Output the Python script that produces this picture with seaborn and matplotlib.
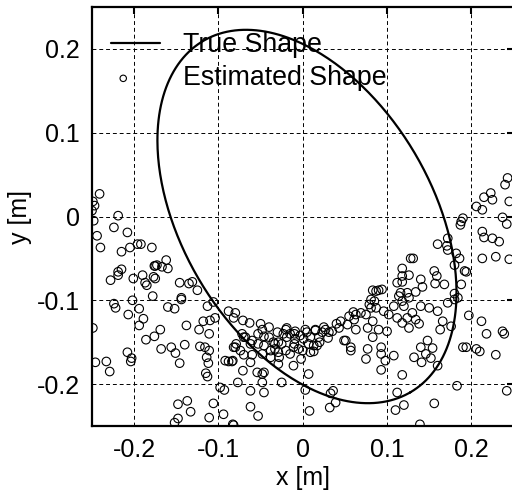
import numpy as np
import pandas as pd
import matplotlib
matplotlib.use("Agg")
import matplotlib.pyplot as plt
from matplotlib.collections import PathCollection
from matplotlib.legend_handler import HandlerPathCollection
import seaborn as sns

# ---------------- data ----------------
# Estimated shape: scattered points (x [m], y [m])
est_x = [
    -0.241, -0.249, -0.247, -0.250, -0.248, -0.219, -0.224, -0.244, -0.208, -0.240,
    -0.215, -0.205, -0.196, -0.192, -0.179, -0.162, -0.173, -0.176, -0.167, -0.160,
    -0.215, -0.219, -0.219, -0.228, -0.201, -0.190, -0.177, -0.175, -0.187, -0.185,
    -0.146, -0.135, -0.131, -0.125, -0.178, -0.144,
    -0.224, -0.222, -0.202, -0.194, -0.207, -0.189, -0.194, -0.160, -0.152, -0.144,
    -0.113, -0.106, -0.088, -0.249, -0.169, -0.176, -0.186, -0.138, -0.123, -0.118,
    -0.110, -0.104, -0.111, -0.140, -0.168, -0.156, -0.151, -0.146, -0.208, -0.203,
    -0.204, -0.246, -0.233, -0.229, -0.122, -0.116, -0.111, -0.114, -0.112, -0.115,
    -0.113, -0.088, -0.084, -0.098, -0.093, -0.148, -0.137, -0.133, -0.148, -0.152,
    -0.106, -0.111, -0.094, -0.083,
    -0.080, -0.082, -0.071, -0.063, -0.072, -0.070, -0.079, -0.082, -0.074, -0.083,
    -0.062, -0.071, -0.054, -0.048, -0.046, -0.048, -0.077, -0.062, -0.046, -0.025,
    0.007, 0.003, 0.033, 0.036, 0.039, 0.032, 0.008, -0.062, -0.053, -0.082,
    -0.048, -0.053, -0.040, -0.060, -0.053, -0.046, -0.033, -0.038, -0.029, -0.048,
    -0.038, -0.028, -0.029, -0.015, -0.011, -0.005, -0.002, -0.019, -0.015, -0.009,
    -0.003, 0.001, 0.009, 0.007, 0.013, 0.017, 0.019, 0.013, 0.009, -0.011,
    -0.025, -0.029, -0.033, -0.023, 0.031, 0.035, 0.043, 0.053, 0.061, 0.063,
    0.069, 0.075, 0.081, 0.079, 0.081, 0.077, 0.063, 0.051, 0.057, 0.057,
    0.077, 0.075, 0.027, 0.023,
    0.085, 0.087, 0.096, 0.102, 0.108, 0.118, 0.120, 0.114, 0.126, 0.140,
    0.150, 0.160, 0.172, 0.180, 0.130, 0.124, 0.134, 0.112, 0.118, 0.126,
    0.138, 0.166, 0.176, 0.163, 0.083, 0.090, 0.100, 0.083, 0.093, 0.093,
    0.108, 0.098, 0.093, 0.140, 0.148, 0.154, 0.146, 0.132, 0.141, 0.152,
    0.160, 0.118, 0.190, 0.194, 0.206, 0.210, 0.229, 0.197, 0.212, 0.218,
    0.237, 0.239, 0.183, 0.242, 0.112, 0.120, 0.110, 0.156, 0.139,
    0.243, 0.240, 0.223, 0.215, 0.225, 0.206, 0.213, 0.245, 0.237, 0.242,
    0.190, 0.188, 0.187, 0.213, 0.215, 0.225, 0.233, 0.172, 0.160, 0.171,
    0.172, 0.182, 0.186, 0.213, 0.229, 0.245, 0.128, 0.131, 0.180, 0.192,
    0.194, 0.156, 0.159, 0.118, 0.126, 0.118, 0.140, 0.112, 0.118, 0.157,
    0.168, 0.188, 0.142, 0.094, 0.087, 0.090, 0.116, 0.124, 0.134, 0.180,
    0.184, 0.083,
    -0.175, -0.092, -0.080, -0.068, -0.062, -0.046, 0.049, 0.055, 0.060,
    -0.019, -0.009, 0.003, 0.015, -0.050, -0.040, -0.030, -0.020, -0.010,
    0.005, 0.015, 0.025, 0.040, 0.045, -0.035, -0.020, 0.000, 0.020, -0.010,
    -0.060, -0.070, 0.030,
]
est_y = [
    0.027, 0.018, 0.013, 0.007, -0.005, 0.001, -0.013, -0.023, -0.019, -0.037,
    -0.042, -0.037, -0.033, -0.033, -0.037, -0.052, -0.058, -0.059, -0.060, -0.062,
    -0.063, -0.066, -0.070, -0.076, -0.074, -0.070, -0.072, -0.074, -0.079, -0.082,
    -0.079, -0.080, -0.078, -0.088, -0.095, -0.097,
    -0.104, -0.109, -0.100, -0.110, -0.117, -0.122, -0.130, -0.108, -0.110, -0.099,
    -0.107, -0.102, -0.113, -0.133, -0.135, -0.143, -0.147, -0.130, -0.135, -0.125,
    -0.124, -0.121, -0.140, -0.153, -0.158, -0.156, -0.163, -0.175, -0.162, -0.169,
    -0.173, -0.174, -0.173, -0.185, -0.155, -0.156, -0.160, -0.168, -0.175, -0.187,
    -0.191, -0.173, -0.173, -0.204, -0.207, -0.224, -0.220, -0.233, -0.241, -0.246,
    -0.223, -0.240, -0.236, -0.248,
    -0.115, -0.121, -0.124, -0.127, -0.140, -0.144, -0.152, -0.156, -0.160, -0.172,
    -0.174, -0.184, -0.186, -0.188, -0.186, -0.198, -0.198, -0.208, -0.210, -0.198,
    -0.188, -0.207, -0.211, -0.208, -0.222, -0.228, -0.232, -0.227, -0.238, -0.249,
    -0.135, -0.140, -0.144, -0.148, -0.152, -0.154, -0.152, -0.160, -0.162, -0.164,
    -0.168, -0.168, -0.176, -0.164, -0.178, -0.158, -0.170, -0.144, -0.140, -0.146,
    -0.142, -0.146, -0.144, -0.152, -0.154, -0.154, -0.144, -0.161, -0.162, -0.156,
    -0.152, -0.150, -0.158, -0.140, -0.138, -0.137, -0.133, -0.129, -0.123, -0.117,
    -0.115, -0.117, -0.109, -0.105, -0.099, -0.133, -0.135, -0.148, -0.156, -0.160,
    -0.158, -0.170, -0.135, -0.138,
    -0.101, -0.109, -0.113, -0.117, -0.107, -0.101, -0.107, -0.095, -0.097, -0.107,
    -0.109, -0.113, -0.103, -0.099, -0.115, -0.121, -0.123, -0.121, -0.127, -0.133,
    -0.128, -0.125, -0.131, -0.135, -0.125, -0.135, -0.137, -0.144, -0.156, -0.164,
    -0.166, -0.172, -0.183, -0.156, -0.148, -0.157, -0.164, -0.168, -0.174, -0.169,
    -0.178, -0.189, -0.156, -0.156, -0.158, -0.161, -0.165, -0.118, -0.125, -0.140,
    -0.137, -0.140, -0.202, -0.208, -0.210, -0.225, -0.231, -0.223, -0.248,
    0.046, 0.038, 0.028, 0.023, 0.020, 0.012, 0.008, 0.018, -0.001, -0.009,
    -0.002, -0.006, -0.010, -0.018, -0.025, -0.026, -0.030, -0.026, -0.033, -0.035,
    -0.040, -0.044, -0.050, -0.050, -0.048, -0.051, -0.050, -0.050, -0.058, -0.065,
    -0.066, -0.065, -0.071, -0.062, -0.070, -0.071, -0.075, -0.079, -0.078, -0.080,
    -0.081, -0.081, -0.084, -0.087, -0.089, -0.088, -0.091, -0.091, -0.090, -0.092,
    -0.097, -0.088,
    -0.059, -0.172, -0.156, -0.144, -0.152, -0.143, -0.148, -0.119, -0.114,
    -0.133, -0.137, -0.135, -0.135, -0.128, -0.132, -0.138, -0.135, -0.140,
    -0.138, -0.136, -0.132, -0.128, -0.125, -0.150, -0.160, -0.160, -0.150, -0.152,
    -0.165, -0.165, -0.145,
]

# True shape: ellipse parameters (center, semi-axes, orientation)
true_center = (0.005, 0.0)
true_semi_axes = (0.243, 0.1485)
true_angle_deg = -59.7

x_ticks = [-0.2, -0.1, 0.0, 0.1, 0.2]
x_tick_labels = ["-0.2", "-0.1", "0", "0.1", "0.2"]
y_ticks = [-0.2, -0.1, 0.0, 0.1, 0.2]
y_tick_labels = ["-0.2", "-0.1", "0", "0.1", "0.2"]
x_limits = (-0.25, 0.25)
y_limits = (-0.25, 0.25)
series_labels = ["True Shape", "Estimated Shape"]

# ---------------- style ----------------
sns.set_style("white")
plt.rcParams["font.family"] = ["Liberation Sans", "DejaVu Sans"]
plt.rcParams["axes.unicode_minus"] = False
plt.rcParams["text.color"] = "black"
plt.rcParams["axes.labelcolor"] = "black"
plt.rcParams["xtick.color"] = "black"
plt.rcParams["ytick.color"] = "black"

W, H = 512, 497
fig = plt.figure(figsize=(W / 100, H / 100), dpi=100)
ax = fig.add_axes([92 / W, (H - 426) / H, (513.5 - 92) / W, (426 - 7) / H])

# ellipse outline
t = np.linspace(0, 2 * np.pi, 400)
th = np.deg2rad(true_angle_deg)
a, b = true_semi_axes
ex = true_center[0] + a * np.cos(th) * np.cos(t) - b * np.sin(th) * np.sin(t)
ey = true_center[1] + a * np.sin(th) * np.cos(t) + b * np.cos(th) * np.sin(t)
ell_df = pd.DataFrame({"x": ex, "y": ey})
sns.lineplot(data=ell_df, x="x", y="y", sort=False, estimator=None, color="black",
             linewidth=1.6, ax=ax, label=series_labels[0], zorder=3)

est_df = pd.DataFrame({"x": est_x, "y": est_y})
sns.scatterplot(data=est_df, x="x", y="y", marker="o", s=38, facecolor="none",
                edgecolor="black", linewidth=0.8, ax=ax, label=series_labels[1], zorder=2)

ax.set_xlim(*x_limits)
ax.set_ylim(*y_limits)
ax.set_xticks(x_ticks)
ax.set_xticklabels(x_tick_labels)
ax.set_yticks(y_ticks)
ax.set_yticklabels(y_tick_labels)
ax.grid(True, color="black", linestyle=(0, (4, 3)), linewidth=0.7)
ax.set_axisbelow(True)
for sp in ax.spines.values():
    sp.set_visible(True)
    sp.set_color("black")
    sp.set_linewidth(1.6)
ax.tick_params(direction="in", top=True, right=True, length=5, width=1.5,
               labelsize=18, pad=8.5, colors="black")
ax.set_xlabel("x [m]", fontsize=18, labelpad=3)
ax.set_ylabel("y [m]", fontsize=18, labelpad=4)


class LeftMarkerHandler(HandlerPathCollection):
    def get_xdata(self, legend, xdescent, ydescent, width, height, fontsize):
        xdata, _ = super().get_xdata(legend, xdescent, ydescent, width, height, fontsize)
        return xdata, [-xdescent + 0.25 * width]


leg = ax.legend(loc="upper left", bbox_to_anchor=(0.045, 0.94), frameon=False,
                fontsize=19.3, handlelength=1.83, handletextpad=0.86,
                labelspacing=0.27, markerscale=0.75, borderaxespad=0, borderpad=0,
                handler_map={PathCollection: LeftMarkerHandler()})
for txt in leg.get_texts():
    txt.set_color("black")

fig.savefig("out.png", dpi=100)
